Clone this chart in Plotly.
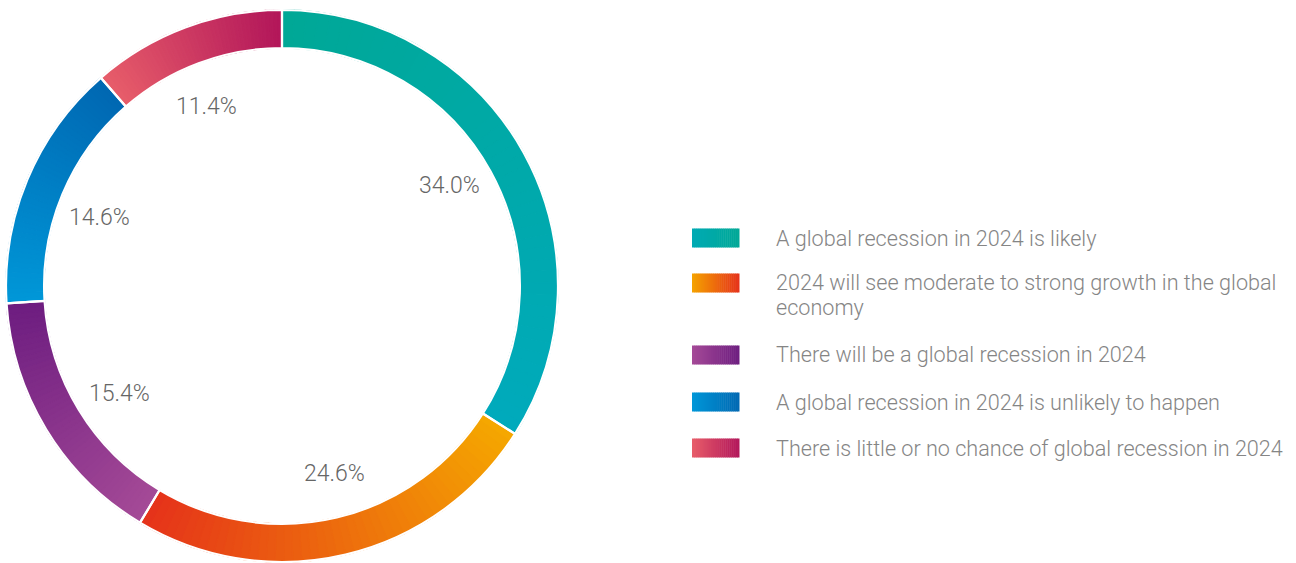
import math
import plotly.graph_objects as go

# Survey responses on the 2024 global outlook (share of respondents, %)
labels = [
    "A global recession in 2024 is likely",
    "2024 will see moderate to strong growth in the global<br>economy",
    "There will be a global recession in 2024",
    "A global recession in 2024 is unlikely to happen",
    "There is little or no chance of global recession in 2024",
]
shares = [34.0, 24.6, 15.4, 14.6, 11.4]
value_text = ["34.0%", "24.6%", "15.4%", "14.6%", "11.4%"]

# Gradient end colours per category (start of slice -> end of slice, clockwise)
grad_start = ["#00A896", "#F5A800", "#A54A97", "#0097D8", "#E85E6A"]
grad_end = ["#00AABC", "#E5321A", "#6D1D80", "#0068B2", "#B2165A"]
# Legend swatches run left -> right
swatch_left = ["#00AAB4", "#F5A300", "#A54A97", "#0097D8", "#E85E6A"]
swatch_right = ["#00A896", "#E5321A", "#6D1D80", "#0068B2", "#B2165A"]

W, H = 1296, 563
CX, CY, R_OUT = 282, 286, 276
HOLE = 0.862
STEPS = 48


def hex_rgb(h):
    h = h.lstrip("#")
    return tuple(int(h[i:i + 2], 16) for i in (0, 2, 4))


def mix(a, b, t):
    ra, rb = hex_rgb(a), hex_rgb(b)
    return "rgb({},{},{})".format(*[round(x + (y - x) * t) for x, y in zip(ra, rb)])


# Each slice is rendered as a run of thin wedges so it can carry a gradient
sub_vals, sub_cols = [], []
for v, c0, c1 in zip(shares, grad_start, grad_end):
    for k in range(STEPS):
        sub_vals.append(v / STEPS)
        sub_cols.append(mix(c0, c1, (k + 0.5) / STEPS))

domain = dict(x=[(CX - R_OUT) / W, (CX + R_OUT) / W],
              y=[1 - (CY + R_OUT) / H, 1 - (CY - R_OUT) / H])

fig = go.Figure()
fig.add_trace(go.Pie(
    values=sub_vals, sort=False, direction="clockwise", rotation=0,
    hole=HOLE, domain=domain, textinfo="none", hoverinfo="skip",
    marker=dict(colors=sub_cols, line=dict(color=sub_cols, width=1.3)),
    showlegend=False,
))
# Outline layer: white separators between the categories
fig.add_trace(go.Pie(
    values=shares, labels=labels, sort=False, direction="clockwise", rotation=0,
    hole=HOLE, domain=domain, textinfo="none",
    marker=dict(colors=["rgba(0,0,0,0)"] * len(shares),
                line=dict(color="white", width=2.2)),
    showlegend=False,
))

# Percentage labels sit just inside the ring, near each slice's mid-angle
total = sum(shares)
cum = 0.0
R_LABEL = 195
ANGLE_SHIFT = math.radians(-2.2)
for v, t in zip(shares, value_text):
    mid = (cum + v / 2) / total * 2 * math.pi + ANGLE_SHIFT
    cum += v
    px = CX + R_LABEL * math.sin(mid)
    py = CY - R_LABEL * math.cos(mid)
    fig.add_annotation(x=px / W, y=1 - py / H, xref="paper", yref="paper",
                       xanchor="center", yanchor="middle",
                       text=t, showarrow=False,
                       font=dict(family="Roboto", size=23, color="#666666", weight=300))

# Custom legend with gradient swatches
legend_y = [238, 283, 355, 402, 448]
SW_X0, SW_X1, SW_H = 692, 739, 19
STRIPS = 24
LINE_GAP = 24
for i, (lab, yc) in enumerate(zip(labels, legend_y)):
    for k in range(STRIPS):
        x0 = SW_X0 + (SW_X1 - SW_X0) * k / STRIPS
        x1 = SW_X0 + (SW_X1 - SW_X0) * (k + 1) / STRIPS + 0.5
        fig.add_shape(type="rect", xref="paper", yref="paper",
                      x0=x0 / W, x1=x1 / W,
                      y0=1 - (yc + SW_H / 2) / H, y1=1 - (yc - SW_H / 2) / H,
                      fillcolor=mix(swatch_left[i], swatch_right[i], (k + 0.5) / STRIPS),
                      line=dict(width=0))
    for j, line in enumerate(lab.split("<br>")):
        fig.add_annotation(x=774 / W, y=1 - (yc + j * LINE_GAP) / H,
                           xref="paper", yref="paper",
                           xanchor="left", yanchor="middle", align="left",
                           text=line, showarrow=False,
                           font=dict(family="Roboto", size=21.6, color="#858585", weight=300))

fig.update_layout(
    width=W, height=H,
    margin=dict(l=0, r=0, t=0, b=0),
    paper_bgcolor="white", plot_bgcolor="white",
)

fig.write_html("out.html")
